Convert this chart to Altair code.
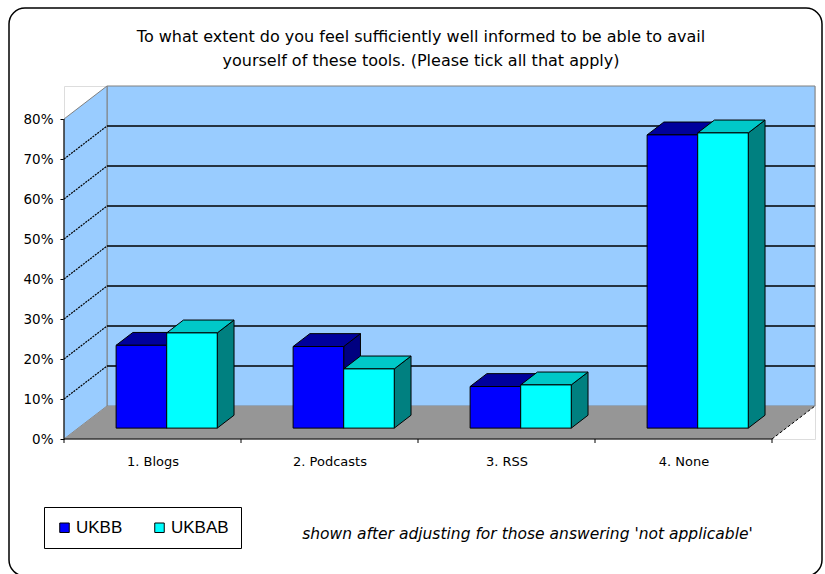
import json

import altair as alt
import pandas as pd

# ---- data -------------------------------------------------------------
categories = ["1. Blogs", "2. Podcasts", "3. RSS", "4. None"]
series_names = ["UKBB", "UKBAB"]
ukbb = [20.7, 20.4, 10.4, 73.3]
ukbab = [23.8, 14.8, 10.8, 73.8]
y_ticks = [0, 10, 20, 30, 40, 50, 60, 70, 80]

title_lines = [
    "To what extent do you feel sufficiently well informed to be able to avail",
    "yourself of these tools. (Please tick all that apply)",
]
note_text = "shown after adjusting for those answering 'not applicable'"

# ---- styling ----------------------------------------------------------
FONT = "Liberation Sans"
WIDE_FONT = "DejaVu Sans"
front_colors = ["#0000FF", "#00FFFF"]
top_colors = ["#00009C", "#00C8C8"]
side_colors = ["#000080", "#008080"]
WALL = "#99CCFF"
FLOOR = "#969696"
EDGE = "#808080"

# ---- pseudo 3-D geometry, expressed in data units ----------------------
N = len(categories)
Y_MAX = 80
DEPTH_X = 43 / 177      # floor depth along x (category units)
DEPTH_Y = 8.25          # floor depth along y (percentage points)
BAR_W = 1 / 3.5         # bar width (two bars + 150% gap per category)
Z_FRONT, Z_BACK = 0.33, 0.72   # bar front/back planes as floor-depth fractions

XS = alt.Scale(domain=[0, N + DEPTH_X], nice=False, zero=False)
YS = alt.Scale(domain=[0, Y_MAX + DEPTH_Y], nice=False, zero=False)

dzx = (Z_BACK - Z_FRONT) * DEPTH_X
dzy = (Z_BACK - Z_FRONT) * DEPTH_Y
base_y = Z_FRONT * DEPTH_Y

front_rows, top_rows, side_rows = [], [], []
for s, (name, values) in enumerate(zip(series_names, [ukbb, ukbab])):
    for i, v in enumerate(values):
        bar = f"{name}-{i}"
        x0 = i + 0.5 - BAR_W + s * BAR_W + Z_FRONT * DEPTH_X
        x1 = x0 + BAR_W
        yt = v + base_y
        front_rows.append(dict(series=name, s=s, bar=bar, category=categories[i],
                               value=v, x0=x0, x1=x1, yb=base_y, yt=yt))
        top_rows.append(dict(s=s, bar=bar, y=yt, xl=x0, xr=x1))
        top_rows.append(dict(s=s, bar=bar, y=yt + dzy, xl=x0 + dzx, xr=x1 + dzx))
        side_rows.append(dict(s=s, bar=bar, x=x1, lo=base_y, hi=yt))
        side_rows.append(dict(s=s, bar=bar, x=x1 + dzx, lo=base_y + dzy, hi=yt + dzy))

front_df = pd.DataFrame(front_rows)
top_df = pd.DataFrame(top_rows)
side_df = pd.DataFrame(side_rows)

# ---- axes (shared by every layer so they merge cleanly) ----------------
x_axis = alt.Axis(
    values=[i + 0.5 for i in range(N)],
    labelExpr=f"{json.dumps(categories)}[floor(datum.value)]",
    domain=False, ticks=False, tickSize=0, grid=False,
    labelPadding=16, labelFontSize=13, labelColor="black", labelFont=WIDE_FONT,
    labelFlush=False,
    title=note_text, titleFont=WIDE_FONT, titleFontSize=15.5, titleFontStyle="italic",
    titleFontWeight="normal", titleColor="black",
    titleX=463, titleY=94, titleAlign="center", titleBaseline="middle", titleAngle=0,
)
y_axis = alt.Axis(
    values=y_ticks, labelExpr="datum.value + '%'",
    domain=False, grid=False, tickSize=4, tickColor="black", tickWidth=1,
    labelPadding=7, labelFontSize=13.5, labelColor="black", labelFont=WIDE_FONT,
    labelFlush=False, title=None,
)


def X(field):
    return alt.X(field, scale=XS, axis=x_axis)


def Y(field):
    return alt.Y(field, scale=YS, axis=y_axis)


back_wall = alt.Chart(pd.DataFrame(
    [dict(x=DEPTH_X, x2=N + DEPTH_X, y=DEPTH_Y, y2=Y_MAX + DEPTH_Y)]
)).mark_rect(fill=WALL, stroke=EDGE, strokeWidth=1).encode(
    x=X("x:Q"), x2="x2:Q", y=Y("y:Q"), y2="y2:Q",
)

side_wall = alt.Chart(pd.DataFrame([
    dict(x=0, lo=0, hi=Y_MAX),
    dict(x=DEPTH_X, lo=DEPTH_Y, hi=Y_MAX + DEPTH_Y),
])).mark_area(orient="vertical", fill=WALL, stroke=EDGE, strokeWidth=1).encode(
    x=X("x:Q"), y=Y("lo:Q"), y2="hi:Q",
)

grid_vals = y_ticks[1:-1]
back_grid = alt.Chart(pd.DataFrame(
    [dict(x=DEPTH_X, x2=N + DEPTH_X, y=g + DEPTH_Y) for g in grid_vals]
)).mark_rule(color="black", strokeWidth=1.5).encode(
    x=X("x:Q"), x2="x2:Q", y=Y("y:Q"),
)

side_grid = alt.Chart(pd.DataFrame(
    [dict(g=g, x=0, y=g) for g in grid_vals]
    + [dict(g=g, x=DEPTH_X, y=g + DEPTH_Y) for g in grid_vals]
)).mark_line(color="black", strokeWidth=1.2, strokeDash=[2, 1]).encode(
    x=X("x:Q"), y=Y("y:Q"), detail="g:N",
)

floor = alt.Chart(pd.DataFrame([
    dict(y=0, xl=0, xr=N),
    dict(y=DEPTH_Y, xl=DEPTH_X, xr=N + DEPTH_X),
])).mark_area(orient="horizontal", fill=FLOOR, strokeWidth=0).encode(
    y=Y("y:Q"), x=X("xl:Q"), x2="xr:Q",
)

color_scale = alt.Scale(domain=series_names, range=front_colors)
legend = alt.Legend(
    orient="none", legendX=-20, legendY=421, direction="horizontal", title=None,
    strokeColor="black", fillColor="white", padding=12,
    symbolType="square", symbolSize=90, symbolStrokeColor="black",
    symbolStrokeWidth=1, symbolOpacity=1,
    labelFontSize=17, labelFont=FONT, labelColor="black", labelOffset=3,
    columnPadding=28,
)


def bar_layers(s):
    side = alt.Chart(side_df).transform_filter(f"datum.s == {s}").mark_area(
        orient="vertical", fill=side_colors[s], stroke="black", strokeWidth=1
    ).encode(x=X("x:Q"), y=Y("lo:Q"), y2="hi:Q", detail="bar:N")
    top = alt.Chart(top_df).transform_filter(f"datum.s == {s}").mark_area(
        orient="horizontal", fill=top_colors[s], stroke="black", strokeWidth=1
    ).encode(y=Y("y:Q"), x=X("xl:Q"), x2="xr:Q", detail="bar:N")
    front = alt.Chart(front_df).transform_filter(f"datum.s == {s}").mark_rect(
        stroke="black", strokeWidth=1, opacity=1
    ).encode(
        x=X("x0:Q"), x2="x1:Q", y=Y("yb:Q"), y2="yt:Q",
        color=alt.Color("series:N", scale=color_scale, legend=legend),
        tooltip=["category:N", "series:N", "value:Q"],
    )
    return [side, top, front]


# front axis lines, category ticks and the floor's right edge
y_line = alt.Chart(pd.DataFrame([dict(x=0, y=0, y2=Y_MAX)])).mark_rule(
    color="black", strokeWidth=1
).encode(x=X("x:Q"), y=Y("y:Q"), y2="y2:Q")

x_line = alt.Chart(pd.DataFrame([dict(x=0, x2=N, y=0)])).mark_rule(
    color="black", strokeWidth=1
).encode(x=X("x:Q"), x2="x2:Q", y=Y("y:Q"))

x_ticks = alt.Chart(pd.DataFrame([dict(x=i, y=0, y2=-1) for i in range(N + 1)])).mark_rule(
    color="black", strokeWidth=1
).encode(x=X("x:Q"), y=Y("y:Q"), y2="y2:Q")

floor_edge = alt.Chart(pd.DataFrame([
    dict(x=N, y=0), dict(x=N + DEPTH_X, y=DEPTH_Y)
])).mark_line(color="black", strokeWidth=1, strokeDash=[3, 2]).encode(
    x=X("x:Q"), y=Y("y:Q"),
)

# chart heading, two centred lines above the plot
heading = alt.Chart(pd.DataFrame({"k": [0]})).mark_text(
    text=title_lines, font=WIDE_FONT, fontSize=16, color="black",
    align="center", baseline="middle", lineHeight=24,
).encode(x=alt.value(357), y=alt.value(-49))

# rounded outer frame of the chart
frame = alt.Chart(pd.DataFrame({"k": [0]})).mark_rect(
    filled=False, stroke="black", strokeWidth=1.5, cornerRadius=16
).encode(
    x=alt.value(-55), x2=alt.value(758), y=alt.value(-78), y2=alt.value(490)
)

chart = alt.layer(
    back_wall, side_wall, back_grid, side_grid, floor,
    *bar_layers(0), *bar_layers(1),
    y_line, x_line, x_ticks, floor_edge, heading, frame,
).properties(
    width=751, height=353,
    autosize=alt.AutoSizeParams(type="none"),
    padding={"left": 64, "top": 86, "right": 10, "bottom": 135},
).configure_view(stroke=None).configure(background="white", font=FONT)

chart.save("out.html", embed_options={"renderer": "svg", "actions": False})
